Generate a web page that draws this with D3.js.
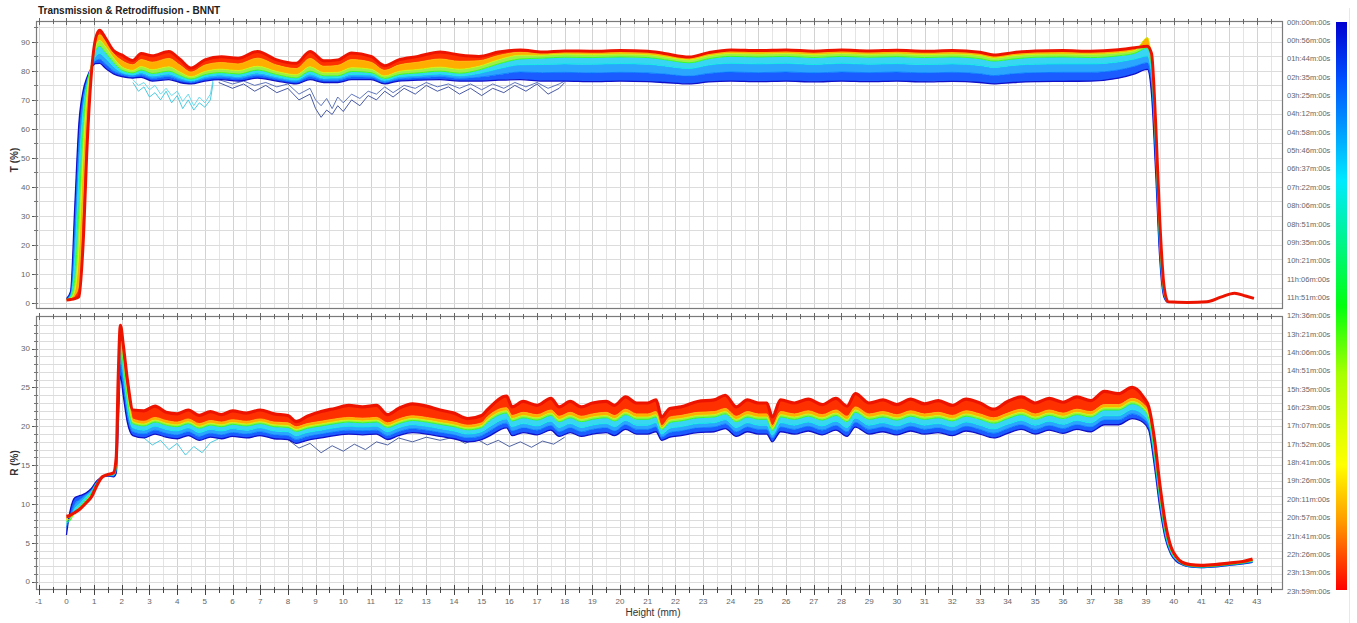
<!DOCTYPE html>
<html><head><meta charset="utf-8">
<script src="https://cdn.jsdelivr.net/npm/d3@7"></script>
<style>body{margin:0;background:#fff;} text{font-family:"Liberation Sans",Arial,sans-serif;}</style>
</head><body><svg id="c" width="1357" height="623"></svg>
<script>
// ---------------- DATA ----------------
const chartTitle = "Transmission & Retrodiffusion - BNNT";
const xTicks = d3.range(-1, 44, 1);
const tTicks = [0,10,20,30,40,50,60,70,80,90];
const rTicks = [0,5,10,15,20,25,30];
const legendLabels = ["00h:00m:00s","00h:56m:00s","01h:44m:00s","02h:35m:00s","03h:25m:00s","04h:12m:00s","04h:58m:00s","05h:46m:00s","06h:37m:00s","07h:22m:00s","08h:06m:00s","08h:51m:00s","09h:35m:00s","10h:21m:00s","11h:06m:00s","11h:51m:00s","12h:36m:00s","13h:21m:00s","14h:06m:00s","14h:51m:00s","15h:35m:00s","16h:23m:00s","17h:07m:00s","17h:52m:00s","18h:41m:00s","19h:26m:00s","20h:11m:00s","20h:57m:00s","21h:41m:00s","22h:26m:00s","23h:13m:00s","23h:59m:00s"];
const scanLabels = ["00h:00m:00s","03h:25m:00s","07h:22m:00s","12h:36m:00s","16h:23m:00s","20h:11m:00s","23h:59m:00s"];
const scanHours = [0, 3.417, 7.367, 12.6, 16.383, 20.183, 23.983];

const heightT = [0,0.15,0.3,0.45,0.6,0.75,0.9,1.05,1.2,1.4,
 1.7,2.0,2.4,2.7,3.1,3.7,4.1,4.5,5.0,5.6,
 6.2,6.9,7.6,8.3,8.8,9.3,9.8,10.3,11.0,11.5,
 12.0,12.7,13.5,14.2,14.9,15.6,16.4,17.2,18,19,
 20,21,21.6,22.5,23.2,24,25,26,27,28,
 29,30,31,32,33,33.5,34.2,35,36,37,
 38,38.6,39.05,39.2,39.35,39.5,39.65,39.8,40.5,41.2,
 41.7,42.2,42.6,42.9];
const T_00h00 = [1.5,4,33,62,73,78,81,82.5,82.6,81,79,78,77.5,77.8,76.5,77,76,75.5,76.5,77,76.5,77.5,76.5,75.5,77,76,76,77,77,75.5,76.5,76.8,77,76.5,76.5,76.8,77,76.5,76.5,76.3,76.5,76.3,76,75.5,76.2,76.5,76.3,76.5,76.2,76.5,76.3,76.5,76.2,76.4,76,75.5,76,76.3,76.4,76.5,77.5,79,80.5,72,45,15,2,0.2,0.2,0.4,2.0,3.4,2.4,1.6];
const T_03h25 = [1.4,3.2,25,55,70,77,81,83.5,84,82.5,80,78.8,78.1,78.6,77.4,78,76.8,76.1,77.2,77.8,77.3,78.4,77.2,76.2,78,76.8,76.8,77.9,77.8,76.1,77.2,77.6,78,77.4,77.8,78.7,79.6,79.4,79.5,79.3,79.5,79.3,78.9,78.2,79.1,79.6,79.4,79.6,79.3,79.6,79.4,79.6,79.3,79.5,79,78.4,79,79.4,79.5,79.5,80.3,81.6,82.8,76,49,17,2.5,0.2,0.2,0.4,2.0,3.4,2.4,1.6];
const T_07h22 = [1.3,2.5,15,45,66,76,81.5,85,86,84.5,81.5,79.5,78.7,79.4,78.2,78.9,77.6,76.6,78,78.6,78.1,79.3,78,76.9,78.9,77.5,77.6,78.8,78.6,76.8,78,78.4,78.9,78.3,79.1,80.7,82.1,82.2,82.4,82.3,82.5,82.3,81.7,80.8,82,82.6,82.4,82.6,82.2,82.6,82.3,82.5,82.2,82.4,81.9,81.2,81.9,82.3,82.4,82.4,83.1,84.1,85.1,79,52,19,3,0.3,0.2,0.4,2.0,3.4,2.4,1.6];
const T_12h36 = [1.3,2.0,8,32,60,75,82,87,88.5,86.5,83,80.3,79.3,80.3,79.1,79.9,78.4,77.2,78.7,79.4,78.9,80.3,78.7,77.6,79.9,78.3,78.3,79.8,79.4,77.4,78.7,79.3,79.9,79.2,80.3,82.4,84.1,84.4,84.7,84.6,84.8,84.6,83.9,82.8,84.2,85,84.8,85,84.6,85,84.7,84.9,84.6,84.8,84.2,83.4,84.1,84.7,84.8,84.6,85.2,86.1,88,82,55,21,3.8,0.3,0.2,0.4,2.0,3.4,2.4,1.6];
const T_16h23 = [1.2,1.6,4,18,50,72,82,88.5,90.5,88.5,84.5,81.4,80.2,81.5,80.4,81.4,79.6,78,79.8,80.6,80.1,81.6,79.8,78.7,81.4,79.4,79.5,81.1,80.6,78.3,79.8,80.5,81.3,80.6,81.6,83.8,85.4,85.4,85.8,85.6,85.8,85.6,84.9,83.8,85.2,86,85.8,86,85.6,86,85.7,85.9,85.6,85.8,85.3,84.4,85.2,85.7,85.8,85.7,86.2,87,91.5,84,58,24,4.5,0.3,0.2,0.4,2.0,3.4,2.4,1.6];
const T_20h11 = [1.1,1.4,2.5,6,35,66,81,90,92.5,90.5,86,83.6,82.1,83.9,83.0,84.3,82,79.6,82,82.9,82.4,84.4,82,80.8,84.3,81.6,81.9,83.9,83,80.2,82,83,84.1,83.3,83.5,85.3,86.4,86,86.4,86.3,86.5,86.3,85.5,84.3,85.8,86.7,86.5,86.7,86.3,86.7,86.4,86.6,86.3,86.5,85.9,85,85.8,86.4,86.5,86.3,86.8,87.6,89,85,60,26,5.2,0.4,0.2,0.4,2.0,3.4,2.4,1.6];
const T_23h59 = [1.0,1.2,1.5,2.2,20,55,79,91,94,91.5,87,85.5,83.6,86,85.2,86.7,84,81,83.8,84.9,84.4,86.7,83.8,82.6,86.7,83.5,83.8,86.2,85,81.8,83.8,85,86.5,85.5,85,86.5,87.2,86.5,86.9,86.8,87,86.8,86,84.8,86.3,87.2,87,87.2,86.8,87.2,86.9,87.1,86.8,87,86.4,85.5,86.3,86.9,87,86.8,87.3,88,88.5,86,62,28,6,0.4,0.2,0.4,2.0,3.4,2.4,1.6];

const heightR = [0,0.1,0.3,0.5,0.7,0.9,1.1,1.3,1.5,1.7,
 1.8,1.87,1.95,2.05,2.2,2.4,2.8,3.2,3.6,4.0,
 4.4,4.8,5.2,5.6,6.0,6.5,7.0,7.5,8.0,8.3,
 8.7,9.2,9.7,10.2,10.7,11.2,11.6,12.0,12.5,13.0,
 13.5,14.0,14.5,15.0,15.2,15.9,16.1,16.5,17.0,17.5,
 17.8,18.2,18.6,19.0,19.5,19.8,20.2,20.6,21.0,21.3,
 21.5,21.8,22.2,22.8,23.4,23.8,24.2,24.6,25.0,25.3,
 25.5,25.8,26.3,26.8,27.3,27.8,28.2,28.5,29,29.5,
 30,30.5,31,31.5,32,32.5,33,33.5,34,34.5,
 35,35.5,36,36.5,37,37.5,38,38.5,38.9,39.1,
 39.3,39.5,39.7,39.9,40.1,40.3,40.6,41,41.5,42,
 42.5,42.85];
const R_00h00 = [6.0,8.5,10.8,11.1,11.4,12.0,13.0,13.5,13.6,13.5,14.0,20,26.5,24,20.5,18.8,18.5,19.0,18.6,18.4,18.8,18.2,18.6,18.4,18.7,18.5,18.8,18.4,18.3,17.8,18.2,18.5,18.8,19.0,18.9,19.0,18.3,18.8,19.2,19.0,18.7,18.4,18.0,18.3,18.6,19.8,18.8,19.2,18.9,19.5,18.7,19.2,18.7,19.0,19.2,18.8,19.6,19.0,19.0,19.3,18.2,18.6,18.8,19.2,19.3,19.7,18.7,19.3,19.0,19.0,18.0,19.3,19.0,19.4,18.9,19.5,18.7,19.9,19.0,19.3,18.9,19.4,19.0,19.2,18.8,19.4,19.0,18.5,19.1,19.6,19.0,19.5,19.1,19.6,19.3,20.2,20.2,21.0,20.5,19.5,15.0,9.5,5.5,3.5,2.6,2.2,1.9,1.8,1.9,2.1,2.3,2.5];
const R_03h25 = [7.0,8.0,10.0,10.6,11.2,11.8,12.9,13.5,13.6,13.6,14.2,21,28,25.5,21.5,19.3,19.0,19.5,19.1,18.9,19.3,18.7,19.1,18.9,19.2,19.0,19.3,18.9,18.8,18.3,18.7,19.0,19.3,19.5,19.4,19.5,18.8,19.3,19.7,19.5,19.2,18.9,18.5,18.8,19.2,20.4,19.4,19.8,19.5,20.1,19.3,19.8,19.3,19.6,19.8,19.4,20.2,19.6,19.6,19.9,18.6,19.2,19.4,19.8,19.9,20.3,19.3,19.9,19.6,19.6,18.5,19.9,19.6,20.0,19.5,20.1,19.3,20.5,19.6,19.9,19.5,20.0,19.6,19.8,19.4,20.0,19.6,19.1,19.7,20.2,19.6,20.1,19.7,20.2,19.9,20.8,20.8,21.6,21.0,20.0,15.6,10.0,5.8,3.6,2.7,2.2,1.9,1.8,1.9,2.1,2.3,2.5];
const R_07h22 = [7.5,7.8,9.4,10.1,10.9,11.6,12.8,13.5,13.7,13.7,14.5,22,29.5,27,22.5,19.8,19.5,20.0,19.6,19.4,19.8,19.2,19.6,19.4,19.7,19.5,19.8,19.4,19.3,18.8,19.2,19.5,19.8,20.0,19.9,20.0,19.3,19.8,20.2,20.0,19.7,19.4,19.0,19.3,19.75,20.95,19.95,20.35,20.05,20.65,19.85,20.35,19.85,20.15,20.35,19.95,20.75,20.15,20.15,20.45,19.0,19.75,19.95,20.35,20.45,20.85,19.85,20.45,20.15,20.15,18.9,20.45,20.15,20.55,20.05,20.65,19.85,21.05,20.15,20.45,20.05,20.55,20.15,20.35,19.95,20.55,20.15,19.65,20.25,20.75,20.15,20.65,20.25,20.75,20.45,21.35,21.35,22.15,21.5,20.5,16.2,10.5,6.1,3.8,2.8,2.3,2.0,1.9,2.0,2.2,2.4,2.6];
const R_12h36 = [7.8,7.8,9.0,9.7,10.5,11.4,12.7,13.5,13.7,13.8,14.7,23,30.5,28,23.5,20.35,20.05,20.55,20.15,19.95,20.35,19.75,20.15,19.95,20.25,20.05,20.35,19.95,19.85,19.35,19.75,20.05,20.35,20.55,20.45,20.55,19.85,20.35,20.75,20.55,20.25,19.95,19.55,19.85,20.5,21.7,20.7,21.1,20.8,21.4,20.6,21.1,20.6,20.9,21.1,20.7,21.5,20.9,20.9,21.2,19.6,20.5,20.7,21.1,21.2,21.6,20.6,21.2,20.9,20.9,19.5,21.2,20.9,21.3,20.8,21.4,20.6,21.8,20.9,21.2,20.8,21.3,20.9,21.1,20.7,21.3,20.9,20.4,21.0,21.5,20.9,21.4,21.0,21.5,21.2,22.1,22.1,22.9,22.2,21.0,16.9,11.0,6.5,4.0,2.9,2.3,2.0,1.9,2.0,2.2,2.4,2.7];
const R_16h23 = [8.0,8.0,8.8,9.5,10.3,11.2,12.6,13.5,13.8,13.9,15.0,24,31.5,29,24.5,20.6,20.3,20.8,20.4,20.2,20.6,20.0,20.4,20.2,20.5,20.3,20.6,20.2,20.1,19.6,20.0,20.3,20.6,20.8,20.7,20.8,20.1,20.6,21.0,20.8,20.5,20.2,19.8,20.1,20.8,22.0,21.0,21.4,21.1,21.7,20.9,21.4,20.9,21.2,21.4,21.0,21.8,21.2,21.2,21.5,19.8,20.8,21.0,21.4,21.5,21.9,20.9,21.5,21.2,21.2,19.8,21.5,21.2,21.6,21.1,21.7,20.9,22.1,21.2,21.5,21.1,21.6,21.2,21.4,21.0,21.6,21.2,20.7,21.3,21.8,21.2,21.7,21.3,21.8,21.5,22.4,22.4,23.2,22.5,21.4,17.3,11.4,6.8,4.1,3.0,2.4,2.1,2.0,2.1,2.3,2.5,2.7];
const R_20h11 = [8.2,8.3,8.8,9.4,10.2,11.0,12.5,13.5,13.8,14.0,15.5,25,32.5,30,25.5,20.95,20.65,21.15,20.75,20.55,20.95,20.35,20.75,20.55,20.85,20.65,20.95,20.55,20.45,19.95,20.35,20.65,20.95,21.15,21.05,21.15,20.45,20.95,21.35,21.15,20.85,20.55,20.15,20.45,21.2,22.4,21.4,21.8,21.5,22.1,21.3,21.8,21.3,21.6,21.8,21.4,22.2,21.6,21.6,21.9,20.1,21.2,21.4,21.8,21.9,22.3,21.3,21.9,21.6,21.6,20.1,21.9,21.6,22.0,21.5,22.1,21.3,22.5,21.6,21.9,21.5,22.0,21.6,21.8,21.4,22.0,21.6,21.1,21.7,22.2,21.6,22.1,21.7,22.2,21.9,22.8,22.8,23.6,22.9,21.8,17.8,11.9,7.1,4.3,3.1,2.4,2.1,2.0,2.1,2.3,2.5,2.8];
const R_23h59 = [8.4,8.5,8.9,9.4,10.1,10.9,12.4,13.5,13.8,14.0,16.0,26,33,30.5,26,22.1,22.0,22.6,21.8,21.6,22.1,21.4,21.9,21.5,22.0,21.7,22.1,21.6,21.4,20.6,21.3,21.9,22.3,22.7,22.5,22.7,21.5,22.3,22.9,22.6,22.1,21.7,21.0,21.4,22.1,23.9,22.5,23.2,22.7,23.6,22.5,23.2,22.5,23.0,23.2,22.7,23.8,23.0,23.0,23.4,21.2,22.3,22.5,23.2,23.4,24.0,22.5,23.4,23.0,23.0,21.2,23.4,23.0,23.5,22.8,23.6,22.6,24.2,23.0,23.4,22.8,23.5,22.9,23.3,22.7,23.5,23.0,22.2,23.2,23.8,23.0,23.6,23.1,23.8,23.3,24.5,24.2,25.0,23.8,22.5,18.5,12.5,7.5,4.5,3.2,2.5,2.2,2.1,2.2,2.4,2.6,2.9];

// noisy early scans
const noiseHeightT1 = [2.4,2.6,2.8,3.0,3.2,3.4,3.6,3.8,4.0,4.2,4.4,4.6,4.8,5.0,5.2,5.3];
const T_noiseCyanA = [76,73,74.5,71,72.5,70,73,69,71.5,67,70,66.5,69,67.5,70,76];
const T_noiseCyanB = [77,75,76,73.5,75,72,74,71.5,73,69.5,72,68,71,69,72,77];
const noiseHeightT2 = [5.5,6.0,6.4,6.8,7.2,7.6,8.0,8.4,8.8,9.0,9.2,9.4,9.6,9.8,10.0,10.3,10.6,10.9,11.2,11.5,11.8,12.2,12.6,13.0,13.4,13.8,14.2,14.6,15.0,15.4,15.8,16.2,16.6,17.0,17.4,17.8,18.0];
const T_noiseBlueA = [76,74,75.5,73,75,72.5,74,70,72,67,64,66.5,65,68,66,70,68,71.5,70,73,71,74,72,75,73,74.5,72,74,71.5,74,72.5,75,73,75.5,72,74,76];
const T_noiseBlueB = [77,75.5,76.5,75,76,74.5,75.5,72,74,70,68,70.5,67,71,69,72,70.5,73,72,74.5,72.5,75,74,76,74.5,75.5,74,75.5,73.5,75.5,74,76,74.5,76,74,75.5,76.5];
const noiseHeightR1 = [2.8,3.1,3.4,3.7,4.0,4.3,4.6,4.9,5.2,5.5];
const R_noiseCyan = [18.5,17.6,18.2,17.0,17.8,16.3,17.4,16.6,17.9,18.4];
const noiseHeightR2 = [8.0,8.4,8.8,9.2,9.6,10.0,10.4,10.8,11.2,11.6,12.0,12.5,13.0,13.5,14.0,14.4,14.8,15.2,15.6,16.0,16.4,16.8,17.2,17.6,18.0];
const R_noiseBlue = [18.3,17.2,17.8,16.6,17.5,16.8,17.7,17.0,18.0,17.6,18.5,18.0,18.6,18.2,18.6,17.8,18.4,17.6,18.2,17.4,18.0,17.3,18.1,17.7,18.6];

// ---------------- DRAW ----------------
const svg = d3.select("#c");
svg.append("rect").attr("width",1357).attr("height",623).attr("fill","#fff");

const x = d3.scaleLinear().domain([-1.1, 43.95]).range([36, 1283]);
const yT = d3.scaleLinear().domain([-2.07, 97.2]).range([309, 21]);
const yR = d3.scaleLinear().domain([-1.07, 34.2]).range([590, 316]);

const colorScale = d3.scaleLinear()
  .domain([0, 0.1, 0.28, 0.5, 0.62, 0.78, 0.88, 1])
  .range(["#0000d0","#0050ff","#00eaff","#00ff10","#a8ff00","#ffff00","#ff9a00","#ff0000"]);
const bandFills = ["#1a5cff","#2aa6ff","#38d6f2","#9cef48","#ffae00","#ff3000"];

function panel(y, heights, series, noise, majorY, minorY, gridY, id, redWidth){
  const top = y.range()[1], bottom = y.range()[0];
  const left = x.range()[0], right = x.range()[1];
  const g = svg.append("g");
  g.append("clipPath").attr("id", id).append("rect")
    .attr("x", left).attr("y", top).attr("width", right-left).attr("height", bottom-top);
  const gg = g.append("g").attr("shape-rendering","crispEdges");
  gg.selectAll(".v").data(d3.range(-1, 43.6, 0.5)).join("line")
    .attr("x1", d=>Math.round(x(d))+0.5).attr("x2", d=>Math.round(x(d))+0.5)
    .attr("y1", top).attr("y2", bottom)
    .attr("stroke", d => Number.isInteger(d) ? "#d2d2d2" : "#e4e4e4");
  gg.selectAll(".h").data(gridY).join("line")
    .attr("x1", left).attr("x2", right)
    .attr("y1", d=>Math.round(y(d))+0.5).attr("y2", d=>Math.round(y(d))+0.5)
    .attr("stroke", "#dcdcdc");
  const plot = g.append("g").attr("clip-path", `url(#${id})`);
  noise.forEach(n => {
    plot.append("path").datum(n.v.map((v,i)=>[n.h[i], v]))
      .attr("fill","none").attr("stroke", n.c).attr("stroke-width", 0.9)
      .attr("d", d3.line().x(d=>x(d[0])).y(d=>y(d[1])));
  });
  for (let k = 0; k < series.length-1; k++){
    const lo = series[k], hi = series[k+1];
    const pts = heights.map((h,i)=>[h, lo[i], hi[i]]);
    plot.append("path").datum(pts).attr("fill", bandFills[k]).attr("stroke","none")
      .attr("d", d3.area().curve(d3.curveMonotoneX).x(d=>x(d[0])).y0(d=>y(d[1])).y1(d=>y(d[2])));
  }
  series.forEach((s,k) => {
    const f = scanHours[k]/scanHours[scanHours.length-1];
    const last = k === series.length-1;
    plot.append("path").datum(heights.map((h,i)=>[h, s[i]]))
      .attr("fill","none")
      .attr("stroke", k===0 ? "#1010c8" : (last ? "#ec1400" : colorScale(f)))
      .attr("stroke-width", last ? redWidth : (k===0 ? 1.3 : 1))
      .attr("stroke-opacity", (k===0||last) ? 1 : 0.8)
      .attr("stroke-linejoin","round")
      .attr("d", d3.line().curve(d3.curveMonotoneX).x(d=>x(d[0])).y(d=>y(d[1])));
  });
  g.append("rect").attr("x", left+0.5).attr("y", top+0.5).attr("width", right-left-1).attr("height", bottom-top-1)
    .attr("fill","none").attr("stroke","#7a7a7a").attr("stroke-width",1.2);
  const tk = g.append("g").attr("shape-rendering","crispEdges");
  tk.selectAll(".ym").data(majorY).join("line")
    .attr("x1", left-4).attr("x2", left+2).attr("y1", d=>Math.round(y(d))+0.5).attr("y2", d=>Math.round(y(d))+0.5)
    .attr("stroke","#555");
  tk.selectAll(".yn").data(minorY).join("line")
    .attr("x1", left-2).attr("x2", left+2).attr("y1", d=>Math.round(y(d))+0.5).attr("y2", d=>Math.round(y(d))+0.5)
    .attr("stroke","#777");
  g.selectAll(".yl").data(majorY).join("text")
    .attr("x", left-6).attr("y", d=>y(d)).attr("dy","0.35em")
    .attr("text-anchor","end").attr("font-size",8).attr("fill","#666").text(d=>d);
  tk.selectAll(".tt").data(d3.range(-1, 43.6, 0.5)).join("line")
    .attr("x1", d=>Math.round(x(d))+0.5).attr("x2", d=>Math.round(x(d))+0.5)
    .attr("y1", d=> top - (Number.isInteger(d)?3:2)).attr("y2", d=> top + (Number.isInteger(d)?4:3))
    .attr("stroke","#666");
  return g;
}

const tSeries = [T_00h00, T_03h25, T_07h22, T_12h36, T_16h23, T_20h11, T_23h59];
const rSeries = [R_00h00, R_03h25, R_07h22, R_12h36, R_16h23, R_20h11, R_23h59];

panel(yT, heightT, tSeries,
  [{h:noiseHeightT1, v:T_noiseCyanA, c:"#38c4dc"},{h:noiseHeightT1, v:T_noiseCyanB, c:"#5ad6ea"},
   {h:noiseHeightT2, v:T_noiseBlueA, c:"#34479a"},{h:noiseHeightT2, v:T_noiseBlueB, c:"#4e66b4"}],
  tTicks, d3.range(0, 96, 5), d3.range(0, 96, 5), "clipT", 3);
panel(yR, heightR, rSeries,
  [{h:noiseHeightR1, v:R_noiseCyan, c:"#38c4dc"},{h:noiseHeightR2, v:R_noiseBlue, c:"#3d5299"}],
  rTicks, d3.range(0, 34, 1), d3.range(0, 34, 1), "clipR", 3.2);

const ax = svg.append("g").attr("shape-rendering","crispEdges");
ax.selectAll(".xm").data(d3.range(-1, 43.6, 0.5)).join("line")
  .attr("x1", d=>Math.round(x(d))+0.5).attr("x2", d=>Math.round(x(d))+0.5)
  .attr("y1", d=> Number.isInteger(d) ? 585 : 587).attr("y2", d=> Number.isInteger(d) ? 595 : 593)
  .attr("stroke","#444");
svg.selectAll(".xl").data(xTicks).join("text")
  .attr("x", d=>x(d)).attr("y", 604).attr("text-anchor","middle")
  .attr("font-size",8).attr("fill","#666").text(d=>d);
svg.append("text").attr("x", 653).attr("y", 616).attr("text-anchor","middle")
  .attr("font-size",10).attr("fill","#333").text("Height (mm)");

svg.append("text").attr("x", 38).attr("y", 14).attr("font-size",10).attr("font-weight","bold")
  .attr("fill","#222").text(chartTitle);
svg.append("text").attr("transform","translate(18,160) rotate(-90)").attr("text-anchor","middle")
  .attr("font-size",10).attr("font-weight","bold").attr("fill","#333").text("T (%)");
svg.append("text").attr("transform","translate(18,463) rotate(-90)").attr("text-anchor","middle")
  .attr("font-size",10).attr("font-weight","bold").attr("fill","#333").text("R (%)");

const defs = svg.append("defs");
const lg = defs.append("linearGradient").attr("id","lg").attr("x1",0).attr("y1",0).attr("x2",0).attr("y2",1);
colorScale.domain().forEach((s,i)=> lg.append("stop").attr("offset", s).attr("stop-color", colorScale.range()[i]));
svg.append("rect").attr("x",1336).attr("y",22).attr("width",11).attr("height",568).attr("fill","url(#lg)");
svg.append("line").attr("x1",1349.5).attr("x2",1349.5).attr("y1",8).attr("y2",623).attr("stroke","#e8e8e8");
const ly = d3.scaleLinear().domain([0, legendLabels.length-1]).range([22, 591]);
svg.selectAll(".lgl").data(legendLabels).join("text")
  .attr("x", 1287).attr("y", (d,i)=>ly(i)).attr("dy","0.35em")
  .attr("font-size",7.5).attr("fill","#666").text(d=>d);
</script>
</body></html>
